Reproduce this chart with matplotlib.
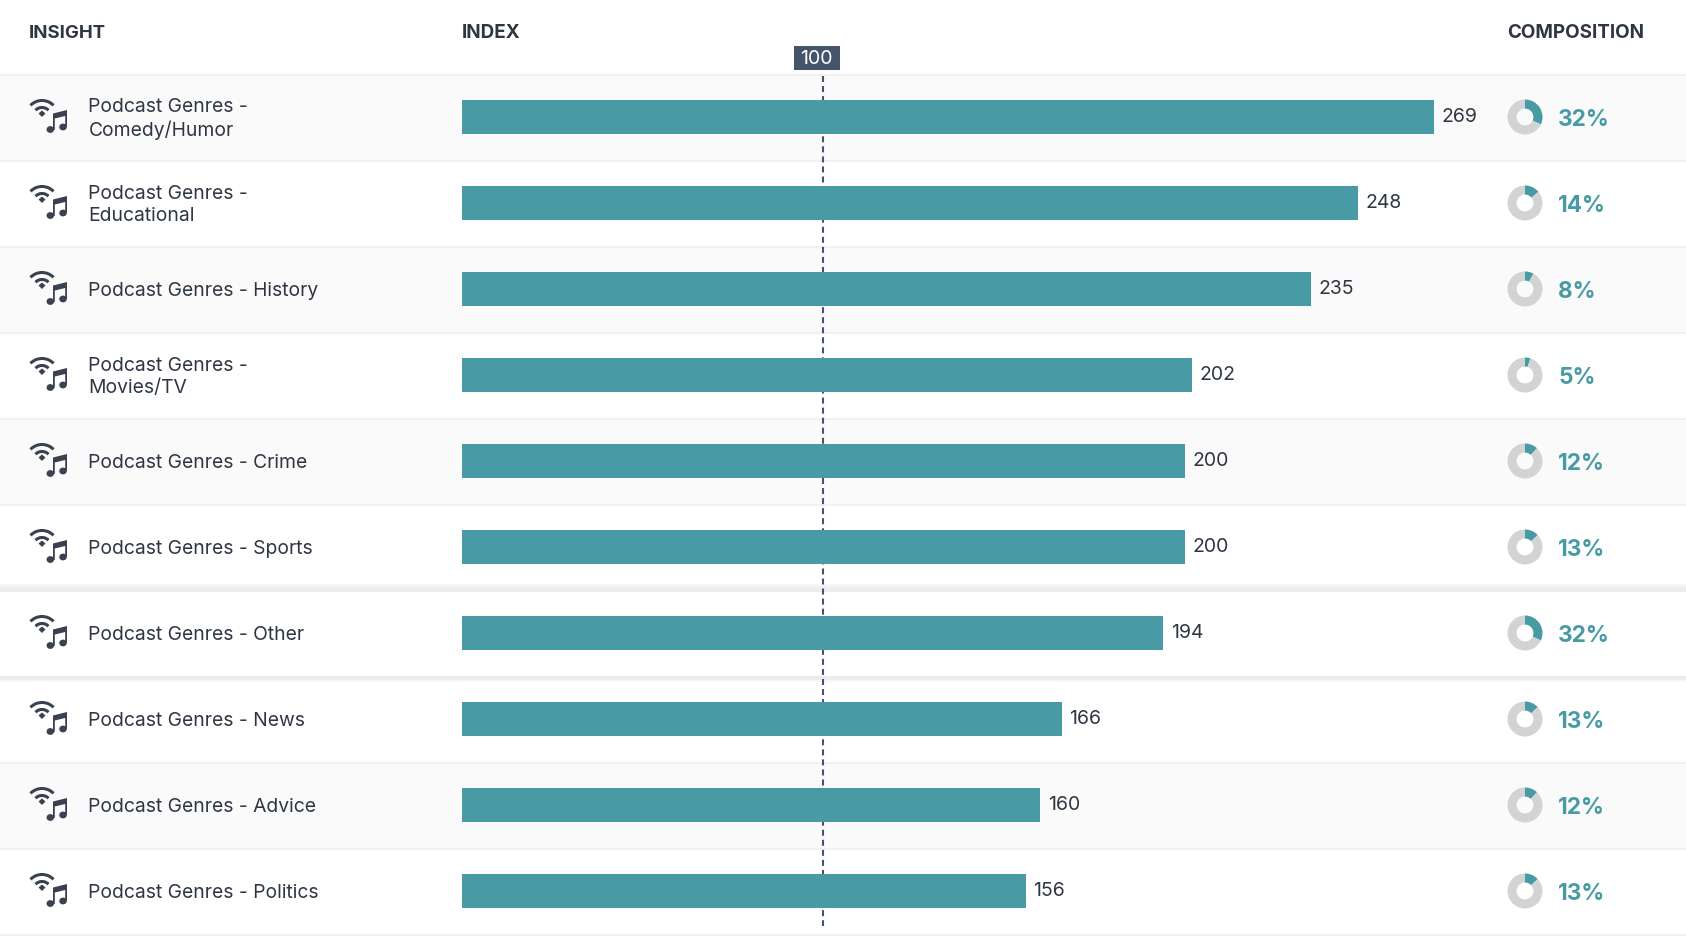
import numpy as np
import matplotlib
matplotlib.use("Agg")
import matplotlib.pyplot as plt
from matplotlib.patches import Rectangle, Arc, Ellipse, Polygon

genres = ["Podcast Genres -\nComedy/Humor", "Podcast Genres -\nEducational", "Podcast Genres - History",
          "Podcast Genres -\nMovies/TV", "Podcast Genres - Crime", "Podcast Genres - Sports",
          "Podcast Genres - Other", "Podcast Genres - News", "Podcast Genres - Advice",
          "Podcast Genres - Politics"]
index_values = [269, 248, 235, 202, 200, 200, 194, 166, 160, 156]
composition = [32, 14, 8, 5, 12, 13, 32, 13, 12, 13]
reference_index = 100
headers = ["INSIGHT", "INDEX", "COMPOSITION"]

W, H = 1686, 936
FONT = "Inter"
TEAL, GREY, INK, NAVY = "#489BA4", "#D2D4D4", "#2F3643", "#44546A"
ICON = "#3A4150"
SCALE = 3.614
plt.rcParams["font.family"] = [FONT, "DejaVu Sans"]

fig = plt.figure(figsize=(W / 100, H / 100), dpi=100, facecolor="white")
# pixel-space layer
px = fig.add_axes([0, 0, 1, 1], zorder=1)
px.set_xlim(0, W); px.set_ylim(H, 0); px.axis("off")

ROW0, ROWH = 75, 86
n = len(genres)
shaded = [0, 2, 4, 8]
for i in range(n):
    top = ROW0 + ROWH * i
    if i in shaded:
        px.add_patch(Rectangle((0, top), W, ROWH, fc="#FAFAFA", ec="none"))
for i in range(n + 1):
    px.plot([0, W], [ROW0 + ROWH * i] * 2, color="#F1F1F1", lw=1.5, solid_capstyle="butt")
# highlighted row shadow
for y, c in [(585, "#F8F8F8"), (587, "#F2F2F2"), (589, "#EEEEEE"), (591, "#EDEDED"),
             (677, "#EBEBEB"), (679, "#EDEDED"), (681, "#F7F7F7")]:
    px.plot([0, W], [y, y], color=c, lw=1.5, solid_capstyle="butt")

for x, t, fs in zip([29, 462, 1507.5], headers, [13.4, 13.6, 13.55]):
    px.text(x, 33.5, t, fontsize=fs, fontweight="bold", color=INK, va="center", ha="left")


def icon(cy):
    o = cy - 118
    for r in (16, 9):
        px.add_patch(Arc((42, 116.5 + o), 2 * r, 2 * r, theta1=224, theta2=316, color=ICON, lw=2.2))
    px.add_patch(Polygon([(38.5, 113.5 + o), (42, 110.5 + o), (45.5, 113.5 + o), (42, 117 + o)],
                         fc=ICON, ec="none"))
    px.add_patch(Polygon([(53, 113.5 + o), (67, 110 + o), (67, 127 + o), (65.2, 127 + o), (65.2, 116 + o),
                          (54.8, 118.5 + o), (54.8, 130 + o), (53, 130 + o)], fc=ICON, ec="none"))
    px.add_patch(Ellipse((50.3, 129.5 + o), 7.5, 6.8, fc=ICON, ec="none"))
    px.add_patch(Ellipse((63, 127 + o), 7.5, 6.8, fc=ICON, ec="none"))


for i, (g, c) in enumerate(zip(genres, composition)):
    cy = ROW0 + ROWH * i + 43
    icon(cy)
    px.text(88.5, cy + 1, g, fontsize=13.9, color=INK, va="center", ha="left", linespacing=1.28)
    px.text(1558, cy + 1.5, f"{c}%", fontsize=16.3, fontweight="bold", color=TEAL, va="center", ha="left")
    d = fig.add_axes([(1525 - 17.5) / W, 1 - (cy - 1 + 17.5) / H, 35 / W, 35 / H], zorder=3)
    d.pie([c, 100 - c], colors=[TEAL, GREY], startangle=90, counterclock=False, radius=1,
          wedgeprops=dict(width=0.52, lw=0))
    d.set_xlim(-1, 1); d.set_ylim(-1, 1)

# data layer: bars on index scale, px 462 = 0
ax = fig.add_axes([0, 0, 1, 1], zorder=2)
ax.patch.set_alpha(0)
ax.set_xlim(-462 / SCALE, (W - 462) / SCALE)
ax.set_ylim((H - (ROW0 + 42)) / ROWH, -(ROW0 + 42) / ROWH)
ax.axis("off")
ax.plot([reference_index] * 2, [(76 - 117) / ROWH, (926 - 117) / ROWH], color=NAVY, lw=1.5,
        dashes=(2.88, 1.944), zorder=1)
ax.barh(range(n), index_values, height=34 / ROWH, color=TEAL, zorder=2)
for i, v in enumerate(index_values):
    ax.text(v + 7.5 / SCALE, i + 0.5 / ROWH, str(v), fontsize=14, color=INK, va="center", ha="left")

ax.text(reference_index - 7 / SCALE, -(117 - 59) / ROWH, str(reference_index), fontsize=14, color="white",
        va="center", ha="center", zorder=4)
ax.add_patch(Rectangle((reference_index - 29 / SCALE, -(117 - 46) / ROWH), 46 / SCALE, 24 / ROWH,
                       fc=NAVY, ec="none", zorder=3))

fig.savefig("out.png", dpi=100, facecolor="white")
